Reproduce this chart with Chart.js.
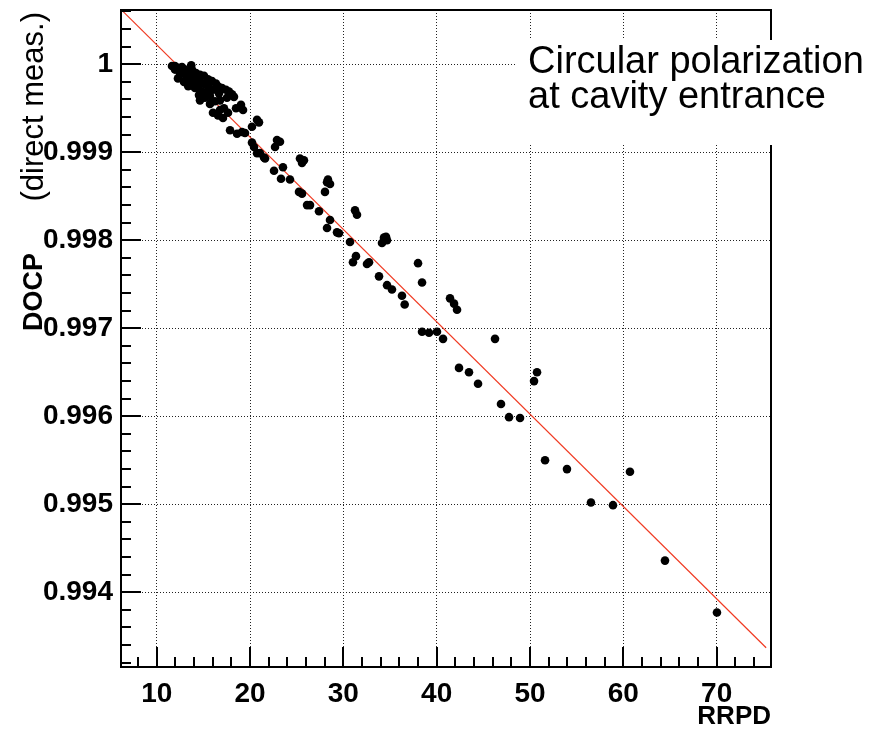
<!DOCTYPE html>
<html>
<head>
<meta charset="utf-8">
<script src="https://cdn.jsdelivr.net/npm/chart.js@4.4.0/dist/chart.umd.min.js"></script>
<style>
  body { margin: 0; background: #fff; }
  #wrap { width: 873px; height: 730px; }
</style>
</head>
<body>
<div id="wrap"><canvas id="myChart" width="873" height="730"></canvas></div>
<script>
var rrpd = [
  11.64, 11.96, 11.96, 12.28, 12.50, 12.71, 12.82, 13.03, 13.14, 13.35,
  13.57, 13.57, 13.78, 13.89, 14.00, 14.21, 14.32, 14.42, 14.64, 14.75,
  14.85, 15.07, 15.17, 15.28, 15.50, 15.60, 15.71, 15.92, 16.03, 16.25,
  16.35, 16.57, 16.67, 17.00, 17.42, 17.75, 18.07, 12.50, 13.25, 14.10,
  14.96, 16.03, 16.57, 17.10, 17.64, 18.50, 19.03, 19.25, 17.86, 18.61,
  19.14, 19.46, 20.21, 20.75, 20.96, 15.71, 16.78, 17.21, 12.93, 14.53,
  20.21, 20.43, 21.07, 21.50, 22.68, 22.89, 23.21, 20.75, 21.61, 22.57,
  23.53, 23.32, 24.28, 25.35, 25.57, 25.78, 25.25, 25.57, 26.11, 26.43,
  27.39, 28.25, 28.57, 28.35, 28.03, 28.57, 28.25, 29.32, 29.53, 31.25,
  31.46, 30.71, 31.35, 31.03, 32.53, 32.75, 33.82, 34.35, 34.68, 34.14,
  34.57, 34.68, 35.21, 36.28, 36.57, 38.00, 38.43, 41.43, 41.86, 42.18,
  38.43, 39.18, 40.03, 40.68, 46.25, 42.39, 43.46, 44.43, 46.89, 47.75,
  48.93, 50.43, 50.75, 51.61, 53.96, 56.53, 58.89, 60.71, 64.46, 70.03,
  12.28, 13.38, 14.64, 15.17, 16.78, 17.53, 18.28, 13.70
];
var docp = [
  0.99998, 0.99998, 0.99994, 0.99996, 0.99994, 0.99997, 0.99990, 0.99994, 0.99987, 0.99991,
  0.99988, 0.99982, 0.99994, 0.99986, 0.99978, 0.99990, 0.99982, 0.99973, 0.99988, 0.99979,
  0.99969, 0.99987, 0.99977, 0.99968, 0.99983, 0.99973, 0.99964, 0.99981, 0.99971, 0.99958,
  0.99978, 0.99975, 0.99967, 0.99973, 0.99971, 0.99969, 0.99966, 0.99989, 0.99982, 0.99973,
  0.99964, 0.99945, 0.99942, 0.99939, 0.99945, 0.99950, 0.99954, 0.99948, 0.99925, 0.99921,
  0.99923, 0.99922, 0.99929, 0.99937, 0.99934, 0.99955, 0.99948, 0.99950, 0.99980, 0.99965,
  0.99911, 0.99906, 0.99899, 0.99894, 0.99906, 0.99914, 0.99912, 0.99899, 0.99893, 0.99879,
  0.99883, 0.99870, 0.99869, 0.99893, 0.99888, 0.99891, 0.99855, 0.99853, 0.99840, 0.99840,
  0.99833, 0.99866, 0.99864, 0.99869, 0.99855, 0.99823, 0.99814, 0.99809, 0.99808, 0.99834,
  0.99829, 0.99798, 0.99782, 0.99775, 0.99773, 0.99775, 0.99759, 0.99803, 0.99800, 0.99797,
  0.99804, 0.99749, 0.99744, 0.99737, 0.99727, 0.99774, 0.99752, 0.99734, 0.99728, 0.99721,
  0.99696, 0.99695, 0.99696, 0.99688, 0.99688, 0.99655, 0.99650, 0.99637, 0.99614, 0.99599,
  0.99598, 0.99640, 0.99650, 0.99550, 0.99540, 0.99502, 0.99499, 0.99537, 0.99436, 0.99377,
  0.99984, 0.99975, 0.99959, 0.99962, 0.99959, 0.99962, 0.99963, 0.99999
];
var fitX = [6.2, 75.3];
var fitY = [1.00062, 0.99337];
var xTicks = [10, 20, 30, 40, 50, 60, 70];
var yTicks = [0.994, 0.995, 0.996, 0.997, 0.998, 0.999, 1];
var xRange = [6.175, 75.82];
var yRange = [0.993151, 1.000617];

var fontFam = "'Liberation Sans', Arial, Helvetica, sans-serif";

var points = rrpd.map(function (x, i) { return { x: x, y: docp[i] }; });
var fitLine = fitX.map(function (x, i) { return { x: x, y: fitY[i] }; });

var rootFrame = {
  id: "rootFrame",
  afterDraw: function (chart) {
    var ctx = chart.ctx;
    var a = chart.chartArea;
    var sx = chart.scales.x, sy = chart.scales.y;
    ctx.save();
    ctx.strokeStyle = "#000";
    ctx.lineWidth = 2;
    ctx.strokeRect(a.left, a.top, a.right - a.left, a.bottom - a.top);

    // inward ticks, ROOT style
    ctx.beginPath();
    for (var k = 8; k <= 74; k += 2) {
      var px = Math.round(sx.getPixelForValue(k));
      var len = k % 10 === 0 ? 20 : 10;
      ctx.moveTo(px, a.bottom);
      ctx.lineTo(px, a.bottom - len);
    }
    for (var m = 9932; m <= 10006; m += 2) {
      var py = Math.round(sy.getPixelForValue(m / 10000));
      var l = m % 10 === 0 ? 20 : 10;
      ctx.moveTo(a.left, py);
      ctx.lineTo(a.left + l, py);
    }
    ctx.stroke();

    // y title
    ctx.fillStyle = "#000";
    ctx.save();
    ctx.translate(42, 331);
    ctx.rotate(-Math.PI / 2);
    ctx.textAlign = "left";
    ctx.textBaseline = "alphabetic";
    ctx.font = "bold 27px " + fontFam;
    ctx.fillText("DOCP", 0, 0);
    ctx.restore();
    ctx.save();
    ctx.translate(43, 12);
    ctx.rotate(-Math.PI / 2);
    ctx.textAlign = "right";
    ctx.textBaseline = "alphabetic";
    ctx.font = "31px " + fontFam;
    ctx.fillText("(direct meas.)", 0, 0);
    ctx.restore();

    // label box
    ctx.fillStyle = "#fff";
    ctx.fillRect(517, 40, 356, 105);
    ctx.fillStyle = "#000";
    ctx.font = "38px " + fontFam;
    ctx.textAlign = "left";
    ctx.textBaseline = "alphabetic";
    ctx.fillText("Circular polarization", 528, 73);
    ctx.fillText("at cavity entrance", 528, 108);
    ctx.restore();
  }
};

var ctx = document.getElementById("myChart").getContext("2d");
var chart = new Chart(ctx, {
  type: "scatter",
  data: {
    datasets: [
      {
        label: "data",
        data: points,
        backgroundColor: "#000",
        borderWidth: 0,
        pointRadius: 4.3,
        pointHoverRadius: 4.3
      },
      {
        type: "line",
        label: "fit",
        data: fitLine,
        borderColor: "#f03a22",
        borderWidth: 1.2,
        pointRadius: 0,
        fill: false,
        tension: 0
      }
    ]
  },
  options: {
    responsive: false,
    animation: false,
    devicePixelRatio: 1,
    layout: { padding: { left: 0, top: 10, right: 102, bottom: 0 } },
    plugins: { legend: { display: false }, tooltip: { enabled: false } },
    scales: {
      x: {
        type: "linear",
        min: xRange[0],
        max: xRange[1],
        afterBuildTicks: function (s) { s.ticks = xTicks.map(function (v) { return { value: v }; }); },
        afterFit: function (s) { s.height = 63; s.paddingLeft = 0; s.paddingRight = 0; },
        grid: { color: "#222", lineWidth: 1, drawTicks: false },
        border: { display: false, dash: [1, 2] },
        ticks: {
          autoSkip: false,
          maxRotation: 0,
          padding: 10,
          color: "#000",
          font: { family: fontFam, size: 28, weight: "bold" },
          callback: function (v) { return String(v); }
        },
        title: {
          display: true,
          text: "RRPD",
          align: "end",
          color: "#000",
          padding: { top: 0, bottom: 0 },
          font: { family: fontFam, size: 26, weight: "bold", lineHeight: 1 }
        }
      },
      y: {
        type: "linear",
        min: yRange[0],
        max: yRange[1],
        afterBuildTicks: function (s) { s.ticks = yTicks.map(function (v) { return { value: v }; }); },
        afterFit: function (s) { s.width = 121; s.paddingTop = 0; s.paddingBottom = 0; },
        grid: { color: "#222", lineWidth: 1, drawTicks: false },
        border: { display: false, dash: [1, 2] },
        ticks: {
          autoSkip: false,
          padding: 8,
          color: "#000",
          font: { family: fontFam, size: 28, weight: "bold" },
          callback: function (v) { return v === 1 ? "1" : v.toFixed(3); }
        }
      }
    }
  },
  plugins: [rootFrame]
});
</script>
</body>
</html>
